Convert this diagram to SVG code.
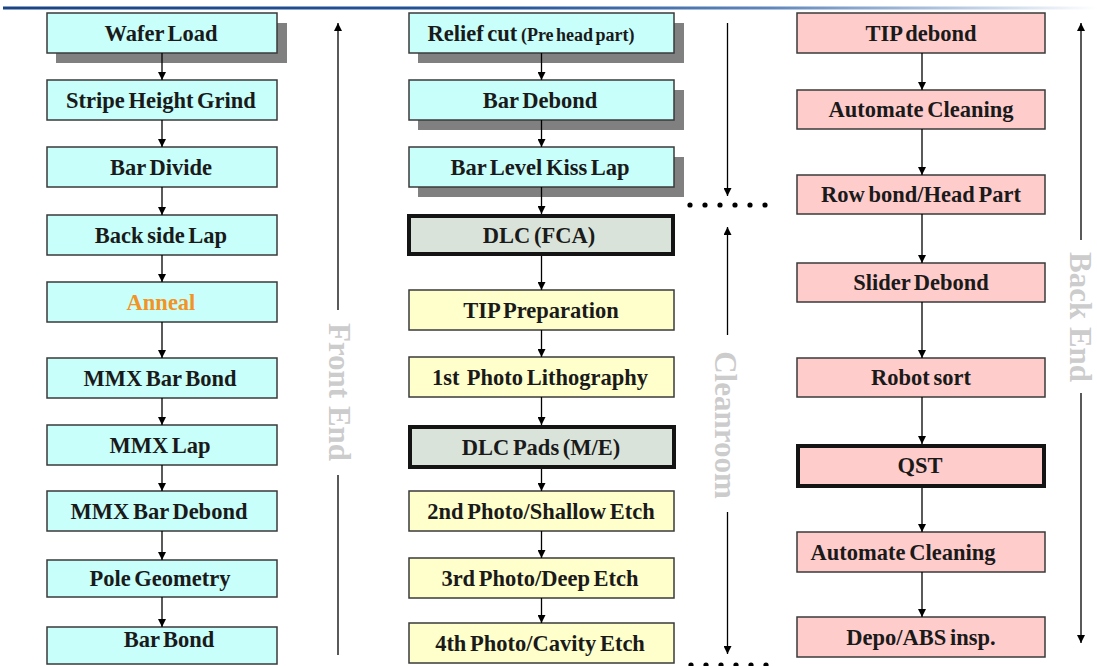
<svg xmlns="http://www.w3.org/2000/svg" width="1097" height="666" viewBox="0 0 1097 666">
<style>
.b{stroke:#3a3a3a;stroke-width:1.5}
.t{fill:#1a1a1a}
.cy{fill:#c8fffb}
.ye{fill:#ffffcc}
.pk{fill:#ffcccc}
.gr{fill:#d9e3d9}
.th{stroke:#141414;stroke-width:4}
.sh{fill:#808080}
text{font-family:"Liberation Serif","Times New Roman",serif;font-weight:bold;font-size:22.5px;text-anchor:middle;word-spacing:-2px}
.lab{fill:#cccccc;font-size:31px;word-spacing:0}
.c line{stroke:#000;stroke-width:1.3;fill:none}
</style>
<defs>
<linearGradient id="tg" x1="0" y1="0" x2="1" y2="0">
<stop offset="0" stop-color="#1a4484"/>
<stop offset="0.45" stop-color="#25549a"/>
<stop offset="0.7" stop-color="#5f86bb"/>
<stop offset="0.9" stop-color="#c5d4e8"/>
<stop offset="1" stop-color="#ffffff"/>
</linearGradient>
<marker id="ah" viewBox="0 0 10 10" refX="10" refY="5" markerWidth="10" markerHeight="8" markerUnits="userSpaceOnUse" orient="auto">
<path d="M0,0 L10,5 L0,10 z" fill="#000"/>
</marker>
</defs>
<rect x="3" y="6.5" width="1094" height="3" fill="url(#tg)"/>

<!-- Left column -->
<g id="n-wafer-load"><rect class="sh" x="56" y="23" width="231" height="40"/><rect class="b cy" x="47" y="13" width="230" height="40"/><text class="t" x="161" y="40.5">Wafer Load</text></g>
<g id="n-stripe-height-grind"><rect class="b cy" x="47" y="80" width="230" height="40"/><text class="t" x="161" y="107.5">Stripe Height Grind</text></g>
<g id="n-bar-divide"><rect class="b cy" x="47" y="147" width="230" height="40"/><text class="t" x="161" y="174.5">Bar Divide</text></g>
<g id="n-back-side-lap"><rect class="b cy" x="47" y="215" width="230" height="40"/><text class="t" x="161" y="242.5">Back side Lap</text></g>
<g id="n-anneal"><rect class="b cy" x="47" y="282" width="230" height="40"/><text x="161" y="309.5" fill="#f39325">Anneal</text></g>
<g id="n-mmx-bar-bond"><rect class="b cy" x="47" y="358" width="230" height="40"/><text class="t" x="160" y="385.5">MMX Bar Bond</text></g>
<g id="n-mmx-lap"><rect class="b cy" x="47" y="425" width="230" height="40"/><text class="t" x="160" y="452.5">MMX Lap</text></g>
<g id="n-mmx-bar-debond"><rect class="b cy" x="47" y="491" width="230" height="40"/><text class="t" x="159" y="518.5">MMX Bar Debond</text></g>
<g id="n-pole-geometry"><rect class="b cy" x="47" y="560" width="230" height="37"/><text class="t" x="160" y="586">Pole Geometry</text></g>
<g id="n-bar-bond"><rect class="b cy" x="47" y="627" width="230" height="37"/><text class="t" x="169" y="647">Bar Bond</text></g>

<!-- Center column -->
<g id="n-relief-cut"><rect class="sh" x="418" y="23" width="266" height="40"/><rect class="b cy" x="409" y="13" width="265" height="40"/><text class="t" x="531" y="40.5">Relief cut <tspan font-size="18px">(Pre head part)</tspan></text></g>
<g id="n-bar-debond"><rect class="sh" x="418" y="90" width="266" height="40"/><rect class="b cy" x="409" y="80" width="265" height="40"/><text class="t" x="540" y="107.5">Bar Debond</text></g>
<g id="n-bar-level-kiss-lap"><rect class="sh" x="418" y="157" width="266" height="40"/><rect class="b cy" x="409" y="147" width="265" height="40"/><text class="t" x="540" y="174.5">Bar Level Kiss Lap</text></g>
<g id="n-dlc-fca"><rect class="th gr" x="409" y="216" width="264" height="38"/><text class="t" x="539" y="242.5">DLC (FCA)</text></g>
<g id="n-tip-preparation"><rect class="b ye" x="409" y="290" width="265" height="40"/><text class="t" x="541" y="317.5">TIP Preparation</text></g>
<g id="n-1st-photo"><rect class="b ye" x="409" y="357" width="265" height="40"/><text class="t" x="540" y="384.5">1st&#160; Photo Lithography</text></g>
<g id="n-dlc-pads"><rect class="th gr" x="410" y="427" width="264" height="40"/><text class="t" x="541" y="454.5">DLC Pads (M/E)</text></g>
<g id="n-2nd-photo"><rect class="b ye" x="409" y="491" width="265" height="40"/><text class="t" x="541" y="518.5">2nd Photo/Shallow Etch</text></g>
<g id="n-3rd-photo"><rect class="b ye" x="409" y="558" width="265" height="40"/><text class="t" x="540" y="585.5">3rd Photo/Deep Etch</text></g>
<g id="n-4th-photo"><rect class="b ye" x="409" y="623" width="265" height="40"/><text class="t" x="540" y="650.5">4th Photo/Cavity Etch</text></g>

<!-- Right column -->
<g id="n-tip-debond"><rect class="b pk" x="797" y="13" width="248" height="40"/><text class="t" x="921" y="40.5">TIP debond</text></g>
<g id="n-automate-cleaning-1"><rect class="b pk" x="797" y="90" width="248" height="39"/><text class="t" x="921" y="117">Automate Cleaning</text></g>
<g id="n-row-bond"><rect class="b pk" x="797" y="175" width="248" height="39"/><text class="t" x="921" y="202">Row bond/Head Part</text></g>
<g id="n-slider-debond"><rect class="b pk" x="797" y="263" width="248" height="39"/><text class="t" x="921" y="290">Slider Debond</text></g>
<g id="n-robot-sort"><rect class="b pk" x="797" y="358" width="248" height="39"/><text class="t" x="921" y="385">Robot sort</text></g>
<g id="n-qst"><rect class="th pk" x="798" y="446" width="246" height="40"/><text class="t" x="920" y="473">QST</text></g>
<g id="n-automate-cleaning-2"><rect class="b pk" x="797" y="532" width="248" height="40"/><text class="t" x="903" y="559.5">Automate Cleaning</text></g>
<g id="n-depo-abs"><rect class="b pk" x="797" y="617" width="248" height="40"/><text class="t" x="921" y="644.5">Depo/ABS insp.</text></g>

<!-- Side labels -->
<g id="lbl-front-end"><text class="lab" transform="translate(329,392) rotate(90)">Front End</text></g>
<g id="lbl-cleanroom"><text class="lab" transform="translate(715,425) rotate(90)">Cleanroom</text></g>
<g id="lbl-back-end"><text class="lab" transform="translate(1070,317) rotate(90)">Back End</text></g>

<g id="connectors" class="c">
<line x1="162" y1="53" x2="162" y2="80" marker-end="url(#ah)"/>
<line x1="162" y1="120" x2="162" y2="147" marker-end="url(#ah)"/>
<line x1="162" y1="187" x2="162" y2="215" marker-end="url(#ah)"/>
<line x1="162" y1="255" x2="162" y2="282" marker-end="url(#ah)"/>
<line x1="162" y1="322" x2="162" y2="358" marker-end="url(#ah)"/>
<line x1="162" y1="398" x2="162" y2="425" marker-end="url(#ah)"/>
<line x1="162" y1="465" x2="162" y2="491" marker-end="url(#ah)"/>
<line x1="162" y1="531" x2="162" y2="560" marker-end="url(#ah)"/>
<line x1="162" y1="597" x2="162" y2="627" marker-end="url(#ah)"/>

<line x1="541.5" y1="53" x2="541.5" y2="80" marker-end="url(#ah)"/>
<line x1="541.5" y1="120" x2="541.5" y2="147" marker-end="url(#ah)"/>
<line x1="541.5" y1="187" x2="541.5" y2="214" marker-end="url(#ah)"/>
<line x1="541.5" y1="256" x2="541.5" y2="290" marker-end="url(#ah)"/>
<line x1="541.5" y1="330" x2="541.5" y2="357" marker-end="url(#ah)"/>
<line x1="541.5" y1="397" x2="541.5" y2="425" marker-end="url(#ah)"/>
<line x1="541.5" y1="469" x2="541.5" y2="491" marker-end="url(#ah)"/>
<line x1="541.5" y1="531" x2="541.5" y2="558" marker-end="url(#ah)"/>
<line x1="541.5" y1="598" x2="541.5" y2="623" marker-end="url(#ah)"/>

<line x1="922" y1="53" x2="922" y2="90" marker-end="url(#ah)"/>
<line x1="922" y1="129" x2="922" y2="175" marker-end="url(#ah)"/>
<line x1="922" y1="214" x2="922" y2="263" marker-end="url(#ah)"/>
<line x1="922" y1="302" x2="922" y2="358" marker-end="url(#ah)"/>
<line x1="922" y1="397" x2="922" y2="444" marker-end="url(#ah)"/>
<line x1="922" y1="488" x2="922" y2="532" marker-end="url(#ah)"/>
<line x1="922" y1="572" x2="922" y2="617" marker-end="url(#ah)"/>

<line x1="338" y1="310" x2="338" y2="23" marker-end="url(#ah)"/>
<line x1="338" y1="475" x2="338" y2="655"/>

<line x1="727.5" y1="23" x2="727.5" y2="196" marker-end="url(#ah)"/>
<line x1="727.5" y1="335" x2="727.5" y2="227" marker-end="url(#ah)"/>
<line x1="727.5" y1="512" x2="727.5" y2="654" marker-end="url(#ah)"/>

<line x1="1081" y1="240" x2="1081" y2="23" marker-end="url(#ah)"/>
<line x1="1081" y1="393" x2="1081" y2="643" marker-end="url(#ah)"/>
</g>

<g id="dots" fill="#000">
<circle cx="690" cy="205" r="2.6"/><circle cx="705" cy="205" r="2.6"/><circle cx="720" cy="205" r="2.6"/><circle cx="735" cy="205" r="2.6"/><circle cx="750" cy="205" r="2.6"/><circle cx="765" cy="205" r="2.6"/>
<circle cx="691" cy="665" r="2.6"/><circle cx="706" cy="665" r="2.6"/><circle cx="721" cy="665" r="2.6"/><circle cx="736" cy="665" r="2.6"/><circle cx="751" cy="665" r="2.6"/><circle cx="766" cy="665" r="2.6"/>
</g>
</svg>
